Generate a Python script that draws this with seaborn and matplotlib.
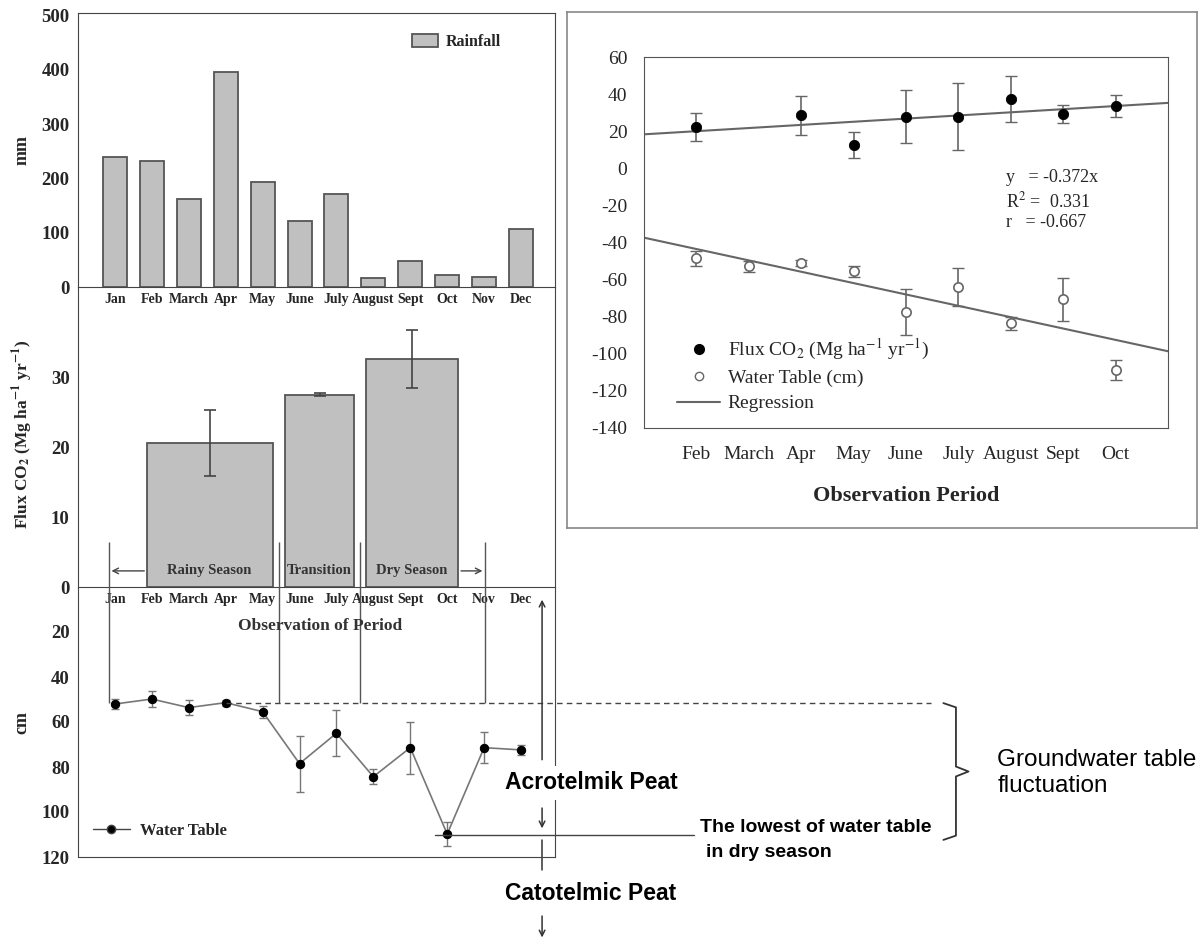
import numpy as np
import matplotlib
matplotlib.use("Agg")
import matplotlib.pyplot as plt
import seaborn as sns
from matplotlib.lines import Line2D

sns.set_style("white")
plt.rcParams["font.family"] = "serif"
plt.rcParams["font.serif"] = ["Liberation Serif", "DejaVu Serif"]
plt.rcParams["mathtext.fontset"] = "stix"
plt.rcParams["axes.unicode_minus"] = False

# monthly rainfall (mm)
months = ["Jan", "Feb", "March", "Apr", "May", "June", "July",
          "August", "Sept", "Oct", "Nov", "Dec"]
rainfall = [239, 233, 163, 396, 194, 122, 171, 16, 48, 23, 18, 107]

# seasonal CO2 flux (Mg ha-1 yr-1), bars span month positions
seasons = ["Rainy Season", "Transition", "Dry Season"]
season_start = [0.87, 4.61, 6.80]
season_end = [4.28, 6.48, 9.30]
season_flux = [20.6, 27.5, 32.6]
season_err = [4.7, 0.2, 4.1]
season_bounds = [-0.17, 4.44, 6.63, 10.03]

# water table depth (cm)
water_table = [52.0, 49.8, 53.6, 51.4, 55.4, 78.5, 65.0, 84.3, 71.4, 109.8, 71.4, 72.4]
water_err = [2.2, 3.6, 3.2, 1.3, 2.6, 12.4, 10.2, 3.3, 11.5, 5.3, 7.0, 2.4]

# observation period (right panel)
obs_months = ["Feb", "March", "Apr", "May", "June", "July", "August", "Sept", "Oct"]
flux_obs = [22.1, np.nan, 28.7, 12.6, 27.8, 27.9, 37.4, 29.1, 33.8]
flux_obs_err = [7.6, np.nan, 10.5, 7.2, 14.3, 18.0, 12.5, 4.9, 5.9]
wt_obs = [-48.5, -52.9, -51.0, -55.4, -77.5, -64.0, -83.5, -70.7, -108.6]
wt_obs_err = [4.0, 3.0, 1.5, 3.0, 12.4, 10.0, 3.5, 11.5, 5.5]

W, H = 1200, 941
fig = plt.figure(figsize=(12, 9.41), dpi=100)


def px_axes(left, top, right, bottom):
    return fig.add_axes([left / W, 1 - bottom / H, (right - left) / W, (bottom - top) / H],
                        facecolor="none")


bold = dict(fontweight="bold", fontfamily="serif")
bar_fill = "#c0c0c0"
bar_edge = "#555555"
xl = (-1.0, 11.92)
ytick_size = 13.5
mon_size = 10

# ---- top: rainfall
ax1 = px_axes(78, 13, 555, 287)
sns.barplot(x=months, y=rainfall, color=bar_fill, saturation=1, edgecolor=bar_edge,
            linewidth=1.3, width=0.65, ax=ax1, label="Rainfall")
ax1.set_xlim(xl)
ax1.set_ylim(0, 505)
ax1.set_yticks(range(0, 501, 100))
ax1.set_ylabel("mm", fontsize=13, **bold)
ax1.yaxis.set_label_coords(-0.1, 0.5)
ax1.tick_params(axis="x", labelsize=mon_size, length=3, pad=1)
ax1.tick_params(axis="y", labelsize=ytick_size, length=3, pad=3)
for t in ax1.get_xticklabels() + ax1.get_yticklabels():
    t.set_fontweight("bold")
ax1.legend(loc="upper left", bbox_to_anchor=(0.67, 0.975), frameon=False,
           prop=dict(weight="bold", size=11.5), handlelength=1.6, handleheight=0.9,
           handletextpad=0.5)
for s in ax1.spines.values():
    s.set_color("#444444")

# ---- middle: seasonal flux
ax2 = px_axes(78, 287, 555, 587)
centers = [(a + b) / 2 for a, b in zip(season_start, season_end)]
widths = [b - a for a, b in zip(season_start, season_end)]
ax2.bar(centers, season_flux, width=widths, color=bar_fill, edgecolor=bar_edge,
        linewidth=1.3, yerr=season_err, ecolor="#444444", capsize=4,
        error_kw=dict(elinewidth=1.2, capthick=1.2))
ax2.set_xlim(xl)
ax2.set_ylim(0, 300 / 7)
ax2.set_yticks([10, 20, 30])
ax2.set_xticks(range(12))
ax2.set_xticklabels(months)
ax2.tick_params(axis="x", labelsize=mon_size, length=3, pad=1)
ax2.tick_params(axis="y", labelsize=ytick_size, length=3, pad=3)
for t in ax2.get_xticklabels() + ax2.get_yticklabels():
    t.set_fontweight("bold")
ax2.spines["top"].set_visible(False)
for s in ax2.spines.values():
    s.set_color("#444444")
ax2.set_ylabel("Flux CO$_\\mathbf{2}$ (Mg ha$^{\\mathbf{-1}}$ yr$^{\\mathbf{-1}}$)", fontsize=12.5, **bold)
ax2.yaxis.set_label_coords(-0.09, 0.51)
ax2.annotate("", xy=(season_bounds[0], 2.3), xytext=(season_start[0], 2.3),
             arrowprops=dict(arrowstyle="->", color="#444444", lw=1))
ax2.annotate("", xy=(season_bounds[-1], 2.3), xytext=(season_end[-1], 2.3),
             arrowprops=dict(arrowstyle="->", color="#444444", lw=1))
for c, name in zip([2.55, 5.54, 8.05], seasons):
    ax2.text(c, 2.3, name, ha="center", va="center", fontsize=10.5, color="#333333", **bold)

# ---- bottom: water table
ax3 = px_axes(78, 587, 555, 857)
ax3.errorbar(range(12), water_table, yerr=water_err, fmt="none", ecolor="#777777",
             elinewidth=1, capsize=3)
sns.lineplot(x=range(12), y=water_table, color="#777777", lw=1.2, marker="o",
             markersize=6, markerfacecolor="black", markeredgecolor="black", ax=ax3)
ax3.set_xlim(xl)
ax3.set_ylim(120, 0)
ax3.set_yticks(range(0, 121, 20))
ax3.set_xticks([])
ax3.tick_params(axis="y", labelsize=ytick_size, length=3, pad=3)
for t in ax3.get_yticklabels():
    t.set_fontweight("bold")
ax3.spines["top"].set_visible(False)
for s in ax3.spines.values():
    s.set_color("#444444")
ax3.set_ylabel("cm", fontsize=13, **bold)
ax3.yaxis.set_label_coords(-0.1, 0.5)
ax3.text(5.55, 17.5, "Observation of Period", ha="center", va="center", fontsize=12.5,
         color="#333333", **bold)

ax3.legend([Line2D([0], [0], color="#444444", marker="o", markersize=6,
                   markerfacecolor="black", lw=1)], ["Water Table"],
           loc="lower left", bbox_to_anchor=(0.0, 0.01), frameon=False,
           prop=dict(weight="bold", size=12), handlelength=2.2, handletextpad=0.6)

# season boundaries and reference lines
ax3.vlines(season_bounds, -20, 51.4, color="#555555", lw=1, clip_on=False)
ax3.plot([3, 22.1], [51.4, 51.4], ls=(0, (4, 3)), color="#444444", lw=1, clip_on=False)
ax3.plot([8.67, 15.69], [110.2, 110.2], color="#444444", lw=1, clip_on=False)

ann = dict(arrowstyle="->", color="#333333", lw=1.1)
ax3.annotate("", xy=(11.57, 4.4), xytext=(11.57, 78), arrowprops=ann, annotation_clip=False)
ax3.annotate("", xy=(11.57, 108.5), xytext=(11.57, 97), arrowprops=ann, annotation_clip=False)
ax3.plot([11.57, 11.57], [112.4, 125.8], color="#333333", lw=1.1, clip_on=False)
ax3.annotate("", xy=(11.57, 157), xytext=(11.57, 145), arrowprops=ann, annotation_clip=False)

sans = dict(fontfamily="Liberation Sans", fontweight="bold", color="black")
ax3.text(10.57, 87.1, "Acrotelmik Peat", ha="left", va="center", fontsize=16.5, clip_on=False,
         bbox=dict(facecolor="white", edgecolor="none", pad=4), zorder=5, **sans)
ax3.text(10.57, 136, "Catotelmic Peat", ha="left", va="center", fontsize=16.5, clip_on=False, **sans)
ax3.text(15.85, 106.7, "The lowest of water table", ha="left", va="center", fontsize=14,
         clip_on=False, **sans)
ax3.text(16.0, 118.2, "in dry season", ha="left", va="center", fontsize=14, clip_on=False, **sans)
ax3.text(23.9, 82.5, "Groundwater table\nfluctuation", ha="left", va="center", fontsize=17.5,
         linespacing=1.25, clip_on=False, fontfamily="Liberation Sans", color="black")
bx = [22.44, 22.78, 22.78, 23.12, 22.78, 22.78, 22.44]
by = [51.6, 53.5, 79.8, 82.0, 84.2, 110.5, 112.4]
ax3.plot(bx, by, color="#333333", lw=1.3, clip_on=False)

# ---- right panel
frame = px_axes(567, 12, 1197, 528)
frame.set_xticks([])
frame.set_yticks([])
for s in frame.spines.values():
    s.set_color("#888888")
    s.set_linewidth(1.2)

ax4 = px_axes(644, 57, 1168, 428)
xo = np.arange(len(obs_months))
ax4.set_xlim(-1, 9)
ax4.set_ylim(-140, 60)
ax4.errorbar(xo, flux_obs, yerr=flux_obs_err, fmt="none", ecolor="#666666", elinewidth=1.2, capsize=4)
ax4.errorbar(xo, wt_obs, yerr=wt_obs_err, fmt="none", ecolor="#666666", elinewidth=1.2, capsize=4)
sns.regplot(x=xo, y=flux_obs, scatter=False, ci=None, truncate=False, ax=ax4,
            line_kws=dict(color="#666666", lw=1.5))
sns.regplot(x=xo, y=wt_obs, scatter=False, ci=None, truncate=False, ax=ax4,
            line_kws=dict(color="#666666", lw=1.5))
sns.scatterplot(x=xo, y=flux_obs, color="black", s=55, edgecolor="black", zorder=4, ax=ax4)
sns.scatterplot(x=xo, y=wt_obs, color="white", s=45, edgecolor="#666666", linewidth=1.2,
                zorder=4, ax=ax4)
ax4.set_xlim(-1, 9)
ax4.set_ylim(-140, 60)
ax4.set_yticks(range(-140, 61, 20))
ax4.set_xticks(xo)
ax4.set_xticklabels(obs_months)
ax4.tick_params(labelsize=14, length=4, color="#555555")
ax4.tick_params(axis="x", pad=9)
ax4.tick_params(axis="y", pad=8)
for s in ax4.spines.values():
    s.set_color("#555555")
ax4.set_xlabel("Observation Period", fontsize=16, fontweight="bold")
ax4.xaxis.set_label_coords(0.5, -0.155)

ax4.text(5.9, -5.2, "y   = -0.372x", fontsize=13, va="center")
ax4.text(5.9, -18.1, "R$^2$ =  0.331", fontsize=13, va="center")
ax4.text(5.9, -29.4, "r   = -0.667", fontsize=13, va="center")

handles = [Line2D([0], [0], ls="none", marker="o", color="black", markersize=7),
           Line2D([0], [0], ls="none", marker="o", markerfacecolor="white",
                  markeredgecolor="#666666", markersize=6),
           Line2D([0], [0], color="#666666", lw=1.5)]
ax4.legend(handles, ["Flux CO$_2$ (Mg ha$^{-1}$ yr$^{-1}$)", "Water Table (cm)", "Regression"],
           loc="lower left", bbox_to_anchor=(0.03, -0.005), frameon=False, fontsize=14,
           handlelength=2.2, handletextpad=0.4, labelspacing=0.38)

fig.savefig("out.png", dpi=100)
